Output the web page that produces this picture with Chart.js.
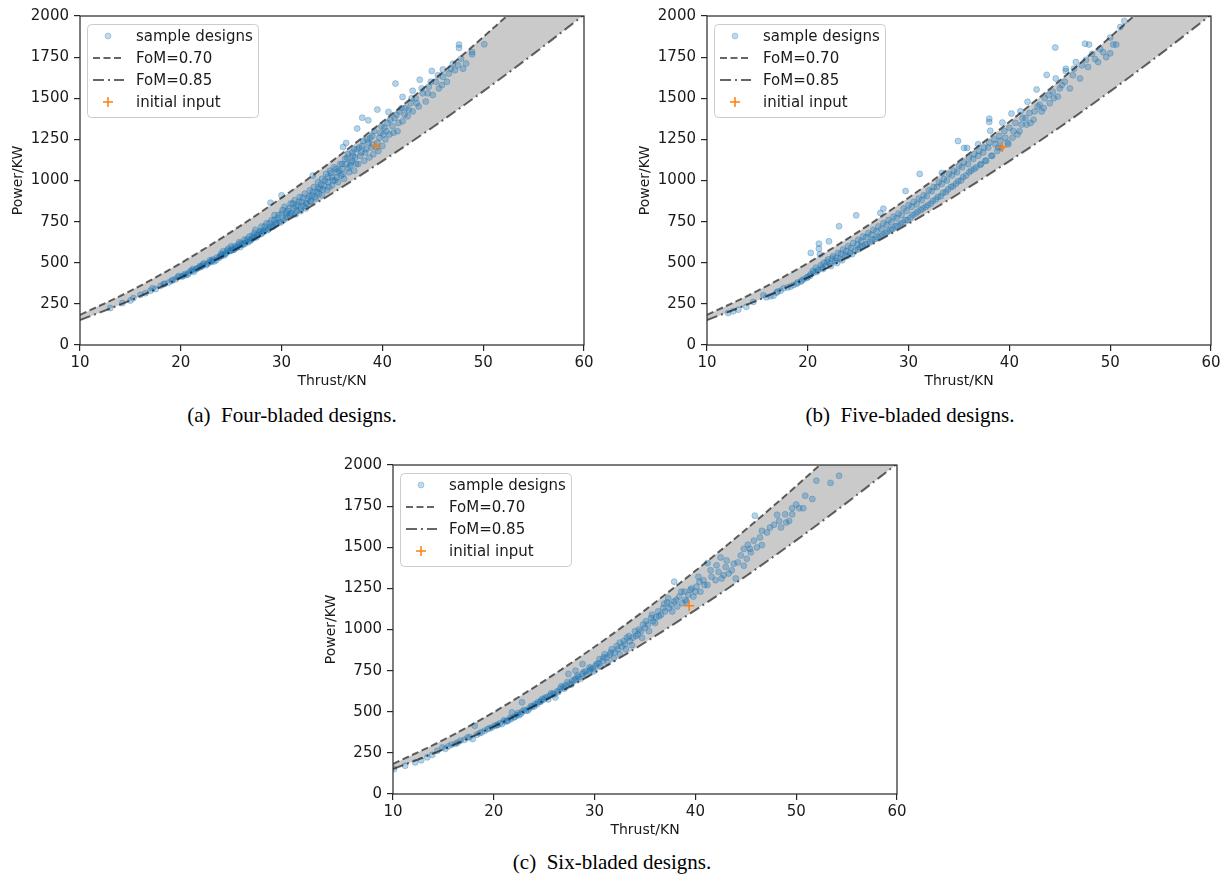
<!DOCTYPE html>
<html><head><meta charset="utf-8">
<script src="https://cdn.jsdelivr.net/npm/chart.js@4.4.1/dist/chart.umd.min.js"></script>
<style>
body{margin:0;background:#fff;width:1227px;height:877px;position:relative;overflow:hidden;font-family:"DejaVu Sans",sans-serif;}
.panel{position:absolute;width:600px;height:392px;}
.cap{position:absolute;font-family:"Liberation Serif",serif;font-size:21px;line-height:24px;color:#000;white-space:pre;transform:translateX(-50%);}
</style></head><body>
<div class="panel" style="left:0;top:0"><canvas id="ca" width="600" height="392"></canvas></div>
<div class="panel" style="left:627px;top:0"><canvas id="cb" width="600" height="392"></canvas></div>
<div class="panel" style="left:313px;top:449px"><canvas id="cc" width="600" height="392"></canvas></div>
<div class="cap" id="capA" style="left:292px;top:403px"></div>
<div class="cap" id="capB" style="left:910px;top:403px"></div>
<div class="cap" id="capC" style="left:612px;top:850px"></div>
<script>
const xTicks=[10,20,30,40,50,60];
const yTicks=[0,250,500,750,1000,1250,1500,1750,2000];
const axisTitles=['Thrust/KN','Power/KW'];
const seriesLabels=['sample designs','FoM=0.70','FoM=0.85','initial input'];
const captions=['(a)  Four-bladed designs.','(b)  Five-bladed designs.','(c)  Six-bladed designs.'];

const curveThrust=[10,15,20,25,30,35,40,45,50,55,60];
const fom70Power=[183,329,498,688,895,1118,1357,1608,1872,2149,2437];
const fom85Power=[151,271,410,567,737,921,1118,1324,1542,1770,2007];

const initialFour=[39.37,1210];
const initialFive=[39.27,1204];
const initialSix=[39.37,1145];

const fourBladedA=[[13.0,225],[14.2,255],[15.0,270],[15.3,285],[16.0,305],[16.5,315],[17.0,330],[17.5,340],[17.2,345],[18.0,360],[18.3,370],[18.8,380],[19.2,395],[19.5,400],[19.8,420],[20.2,420],[20.5,425],[20.8,440],[21.0,450],[21.3,445],[21.5,460],[21.8,470],[22.0,475],[22.2,490],[22.5,485],[22.8,500],[23.0,505],[23.2,520],[23.5,515],[23.8,530],[24.0,540],[24.0,555],[24.3,545],[24.5,560],[24.8,570],[25.0,575],[25.0,600],[25.3,580],[25.5,590],[25.7,610],[25.9,595],[26.0,620],[26.2,610],[26.5,630],[26.7,625],[26.8,660],[27.0,640],[27.2,650],[27.3,680],[27.5,655],[27.7,670],[27.9,690],[28.0,675],[28.0,720],[28.2,690],[28.4,700],[28.5,740],[28.7,705],[28.9,720],[28.9,865],[29.0,760],[29.2,725],[29.3,790],[29.5,740],[29.6,770],[29.8,750],[30.0,800],[30.0,910],[30.2,760],[30.3,840],[30.5,780],[30.6,815],[30.8,790],[30.9,860],[31.0,800],[31.2,830],[31.3,880],[31.5,815],[31.6,850],[31.8,900],[31.9,830],[32.0,870],[32.2,845],[32.3,920],[32.5,860],[32.6,890],[32.8,940],[32.9,875],[33.0,910],[33.1,1030],[33.2,960],[33.4,890],[33.5,930],[33.6,990],[33.8,950],[34.0,910],[34.0,1010],[34.2,970],[34.4,1040],[34.5,940],[34.6,990],[34.8,1060],[35.0,970],[35.0,1020],[35.2,1080],[35.3,1000],[35.5,1050],[35.6,990],[35.8,1100],[35.9,1030],[36.0,1070],[36.1,1204],[36.2,1010],[36.4,1228],[36.4,1100],[36.5,1140],[36.7,1050],[36.8,1090],[37.0,1170],[37.0,1120],[37.2,1060],[37.3,1140],[37.5,1316],[37.5,1190],[37.6,1100],[37.8,1150],[38.0,1382],[38.0,1210],[38.2,1120],[38.3,1170],[38.5,1250],[38.6,1366],[38.7,1140],[38.9,1200],[39.0,1270],[39.1,1160],[39.5,1431],[39.5,1230],[39.6,1180],[39.8,1290],[40.0,1210],[40.2,1320],[40.3,1250],[40.6,1417],[40.5,1350],[40.7,1280],[41.0,1330],[41.3,1589],[41.2,1380],[41.5,1300],[41.7,1420],[42.0,1508],[42.0,1360],[42.3,1440],[42.5,1390],[42.8,1470],[43.0,1545],[43.0,1420],[43.3,1500],[43.7,1613],[43.6,1450],[44.0,1530],[44.3,1480],[44.6,1570],[44.9,1666],[45.0,1520],[45.3,1600],[45.6,1560],[46.0,1675],[46.0,1630],[46.4,1600],[46.8,1680],[47.2,1670],[47.6,1826],[47.6,1806],[47.5,1700],[48.0,1680],[48.3,1711],[48.9,1781],[48.9,1767],[50.1,1828]];
const fourBladedB=[[18.4,372],[19.1,390],[19.7,412],[20.1,416],[20.4,431],[20.7,428],[21.1,452],[21.2,462],[21.6,465],[21.9,480],[22.1,478],[22.3,497],[22.6,492],[22.9,515],[23.1,512],[23.3,508],[23.6,532],[23.9,540],[24.1,548],[24.2,570],[24.4,552],[24.6,575],[24.7,585],[24.9,572],[25.1,590],[25.2,578],[25.4,600],[25.6,595],[25.8,625],[26.1,612],[26.3,640],[26.4,618],[26.6,645],[26.9,635],[27.1,665],[27.3,655],[27.4,700],[27.6,668],[27.8,690],[28.1,685],[28.3,720],[28.6,698],[28.8,740],[29.1,718],[29.3,760],[29.4,735],[29.7,790],[29.9,745],[30.1,820],[30.4,770],[30.4,800],[30.7,830],[30.9,800],[31.1,860],[31.4,795],[31.4,840],[31.7,870],[31.9,815],[32.1,895],[32.4,860],[32.4,830],[32.7,905],[32.9,870],[33.1,930],[33.3,900],[33.6,955],[33.7,920],[33.9,975],[34.1,945],[34.3,1000],[34.6,1020],[34.7,960],[34.9,1045],[35.1,1000],[35.4,1070],[35.5,1020],[35.7,1060],[36.0,1100],[36.1,1040],[36.3,1130],[36.6,1075],[36.6,1160],[36.9,1110],[37.1,1150],[37.2,1190],[37.4,1100],[37.7,1200],[37.9,1170],[38.1,1240],[38.4,1190],[38.6,1230],[38.8,1260],[39.0,1220],[39.2,1300],[39.4,1200],[39.7,1260],[39.9,1330],[40.1,1280],[40.4,1300],[40.8,1370],[41.1,1290],[41.4,1400],[41.6,1350],[41.9,1440],[42.2,1400],[42.6,1430],[42.9,1500],[43.4,1470],[43.9,1560],[44.5,1530],[44.8,1600],[45.5,1640],[45.9,1580],[46.6,1650],[47.0,1710],[47.8,1740]];

const fiveBladedA=[[12.1,195],[12.6,205],[13.1,215],[13.9,232],[15.6,302],[15.9,290],[16.3,296],[16.6,300],[17.0,325],[17.6,345],[18.0,350],[18.6,365],[19.0,380],[19.3,385],[19.6,400],[20.0,415],[20.3,430],[20.3,560],[20.6,440],[20.8,470],[21.0,455],[21.1,586],[21.1,616],[21.2,551],[21.4,470],[21.6,500],[21.8,480],[22.0,520],[22.1,630],[22.2,495],[22.5,540],[22.7,510],[23.0,560],[23.1,722],[23.2,525],[23.5,580],[23.7,545],[24.0,600],[24.2,560],[24.5,620],[24.8,788],[24.7,575],[25.0,640],[25.2,595],[25.5,660],[25.7,610],[26.0,680],[26.2,625],[26.5,700],[26.7,645],[27.0,720],[27.2,803],[27.2,660],[27.5,829],[27.5,740],[27.7,680],[28.0,760],[28.2,700],[28.5,780],[28.7,720],[29.0,800],[29.2,735],[29.5,830],[29.7,936],[29.7,760],[30.0,850],[30.2,775],[30.5,870],[30.7,800],[31.0,890],[31.1,1040],[31.2,820],[31.5,910],[31.7,840],[32.0,940],[32.2,860],[32.5,960],[32.7,885],[33.0,990],[33.3,1046],[33.2,905],[33.5,1010],[33.7,930],[34.0,1040],[34.2,960],[34.5,1060],[34.7,980],[34.9,1240],[35.0,1090],[35.2,1000],[35.5,1198],[35.5,1110],[35.8,1198],[35.7,1030],[36.0,1140],[36.2,1060],[36.5,1160],[36.7,1080],[36.9,1221],[37.0,1180],[37.2,1100],[37.5,1200],[37.7,1120],[38.0,1376],[38.0,1356],[38.1,1302],[38.0,1230],[38.3,1150],[38.5,1250],[38.8,1180],[39.0,1270],[39.3,1352],[39.2,1200],[39.5,1300],[39.8,1230],[40.2,1407],[40.0,1320],[40.3,1260],[40.6,1350],[41.1,1421],[41.0,1300],[41.3,1380],[41.8,1478],[41.7,1340],[42.0,1410],[42.4,1370],[42.7,1553],[42.8,1450],[43.2,1420],[43.7,1642],[43.5,1500],[44.0,1470],[44.3,1540],[44.6,1620],[44.55,1808],[44.8,1510],[45.2,1580],[45.6,1680],[45.6,1665],[46.0,1560],[46.3,1640],[46.6,1720],[47.0,1620],[47.5,1832],[47.6,1734],[47.9,1826],[47.8,1690],[48.5,1738],[48.8,1720],[49.3,1780],[50.0,1869],[50.0,1773],[50.3,1826],[50.6,1826],[51.0,1933],[51.4,1970]];
const fiveBladedB=[[14.6,262],[16.9,318],[17.3,330],[18.3,355],[18.9,372],[19.4,392],[19.9,408],[20.2,420],[20.5,450],[20.9,445],[21.3,485],[21.5,462],[21.9,505],[22.3,480],[22.4,525],[22.8,530],[22.9,498],[23.3,555],[23.4,515],[23.8,570],[23.9,540],[24.3,590],[24.4,552],[24.9,610],[25.0,580],[25.3,630],[25.4,600],[25.8,655],[25.9,615],[26.3,670],[26.4,640],[26.8,690],[26.9,655],[27.3,705],[27.4,670],[27.8,730],[27.9,690],[28.3,745],[28.4,705],[28.8,770],[28.9,725],[29.3,790],[29.4,745],[29.8,815],[29.9,760],[30.3,840],[30.4,790],[30.8,855],[30.9,810],[31.3,880],[31.4,830],[31.8,905],[31.9,850],[32.3,935],[32.4,875],[32.8,960],[32.9,900],[33.3,980],[33.4,925],[33.8,1000],[33.9,945],[34.3,1030],[34.4,965],[34.8,1050],[34.9,995],[35.3,1080],[35.4,1020],[35.9,1100],[36.0,1050],[36.4,1130],[36.5,1070],[36.9,1150],[37.1,1095],[37.4,1170],[37.6,1120],[37.9,1200],[38.2,1150],[38.6,1220],[38.9,1200],[39.1,1240],[39.6,1260],[39.9,1220],[40.4,1300],[40.8,1280],[41.2,1340],[41.6,1380],[42.1,1350],[42.5,1420],[43.0,1460],[43.4,1440],[43.9,1520],[44.4,1500],[45.0,1560],[45.5,1600],[46.4,1680],[47.2,1700],[48.2,1770],[49.0,1800],[49.6,1750]];

const sixBladedA=[[10.1,152],[12.2,192],[13.4,223],[14.4,263],[14.9,283],[15.2,275],[15.8,300],[16.2,305],[16.7,324],[17.4,344],[17.9,334],[18.1,415],[18.3,360],[18.6,370],[19.1,385],[19.4,395],[19.8,405],[20.1,415],[20.4,420],[20.8,425],[21.1,440],[21.4,446],[21.8,496],[21.7,455],[22.0,465],[22.3,480],[22.5,478],[22.8,557],[22.8,500],[23.2,505],[23.5,520],[23.8,530],[24.1,547],[24.3,545],[24.6,560],[24.8,578],[25.0,575],[25.3,590],[25.6,600],[25.9,610],[26.1,587],[26.3,625],[26.6,640],[26.9,650],[27.1,660],[27.4,730],[27.5,670],[27.8,690],[28.1,750],[28.1,700],[28.4,710],[28.8,790],[28.8,730],[29.1,745],[29.5,770],[29.5,750],[29.8,765],[30.1,780],[30.4,795],[30.5,820],[30.8,810],[31.0,850],[31.2,830],[31.5,845],[31.7,880],[32.0,860],[32.3,880],[32.5,920],[32.7,895],[33.0,910],[33.2,950],[33.5,930],[33.8,950],[34.0,990],[34.3,970],[34.6,990],[34.8,1030],[35.0,1010],[35.3,1030],[35.6,1070],[35.8,1050],[36.1,1075],[36.3,1110],[36.6,1090],[36.9,1157],[37.0,1110],[37.2,1165],[37.4,1130],[37.6,1150],[37.9,1291],[37.9,1170],[38.2,1140],[38.4,1200],[38.7,1160],[38.9,1230],[39.0,1180],[39.3,1210],[39.6,1250],[39.8,1200],[40.1,1260],[40.4,1290],[40.5,1230],[40.8,1300],[41.2,1404],[41.2,1270],[41.6,1320],[42.0,1300],[42.3,1350],[42.5,1438],[42.8,1330],[43.0,1380],[43.3,1340],[43.6,1360],[44.0,1310],[44.2,1408],[44.8,1388],[44.8,1490],[45.2,1515],[45.4,1490],[45.5,1469],[45.9,1692],[46.1,1499],[46.6,1513],[46.6,1600],[47.1,1590],[47.8,1637],[48.1,1697],[48.5,1620],[49.0,1650],[49.3,1660],[49.6,1737],[49.6,1700],[50.3,1737],[50.7,1737],[50.9,1813],[51.6,1793],[52.0,1905],[53.4,1891],[54.25,1935]];
const sixBladedB=[[11.2,172],[12.8,205],[13.9,238],[15.5,290],[16.4,312],[17.1,330],[17.6,346],[18.8,375],[19.6,400],[20.3,418],[20.6,430],[21.0,448],[21.3,442],[21.6,462],[22.1,470],[22.4,492],[22.7,488],[23.0,510],[23.4,508],[23.7,535],[24.0,532],[24.4,560],[24.7,565],[25.1,585],[25.4,575],[25.7,612],[26.0,605],[26.4,620],[26.7,655],[27.0,640],[27.3,680],[27.7,665],[28.0,690],[28.3,720],[28.6,700],[28.9,740],[29.2,725],[29.6,760],[29.9,745],[30.2,790],[30.6,775],[30.9,830],[31.3,800],[31.6,860],[31.9,825],[32.2,900],[32.5,850],[32.9,930],[33.1,880],[33.4,960],[33.7,905],[34.1,960],[34.4,1000],[34.7,950],[35.1,1050],[35.4,990],[35.7,1090],[36.0,1040],[36.4,1080],[36.8,1130],[37.3,1190],[37.7,1110],[38.1,1180],[38.6,1230],[39.1,1170],[39.5,1240],[40.0,1230],[40.3,1320],[40.9,1270],[41.5,1360],[42.1,1390],[42.6,1310],[43.1,1420],[43.8,1400],[44.5,1450],[45.1,1430],[45.8,1540],[46.4,1560],[47.4,1620],[48.3,1660],[48.9,1700],[50.0,1760]];

const LINE_COL='rgba(0,0,0,0.6)';
const DOT_COL='rgba(31,119,180,0.32)';
const DASH70=[7,3.5];
const DASH85=[11,4,2,4];

const framePlugin={id:'frame',afterDatasetsDraw(chart){const {ctx,chartArea:a}=chart;ctx.save();ctx.strokeStyle='#262626';ctx.lineWidth=1.2;ctx.strokeRect(a.left,a.top,a.right-a.left,a.bottom-a.top);ctx.restore();}};

const legendPlugin={id:'mplLegend',afterDraw(chart){
  const ctx=chart.ctx,a=chart.chartArea;
  const x0=a.left+7,y0=a.top+8,w=171,h=93;
  ctx.save();
  ctx.beginPath();ctx.roundRect(x0+0.5,y0+0.5,w,h,4);
  ctx.fillStyle='rgba(255,255,255,0.8)';ctx.fill();
  ctx.strokeStyle='#cccccc';ctx.lineWidth=1;ctx.stroke();
  const rows=[a.top+20,a.top+42,a.top+64,a.top+86];
  const hx0=a.left+13,hx1=a.left+44,hc=a.left+28;
  ctx.beginPath();ctx.arc(hc,rows[0],3,0,Math.PI*2);ctx.fillStyle='rgba(31,119,180,0.28)';ctx.fill();ctx.strokeStyle='rgba(31,119,180,0.28)';ctx.lineWidth=1;ctx.stroke();
  ctx.strokeStyle=LINE_COL;ctx.lineWidth=2;
  ctx.setLineDash(DASH70);ctx.beginPath();ctx.moveTo(hx0,rows[1]);ctx.lineTo(hx1,rows[1]);ctx.stroke();
  ctx.setLineDash(DASH85);ctx.beginPath();ctx.moveTo(hx0,rows[2]);ctx.lineTo(hx1,rows[2]);ctx.stroke();
  ctx.setLineDash([]);
  ctx.strokeStyle='#ff7f0e';ctx.lineWidth=1.5;ctx.beginPath();ctx.moveTo(hc-5,rows[3]);ctx.lineTo(hc+5,rows[3]);ctx.moveTo(hc,rows[3]-5);ctx.lineTo(hc,rows[3]+5);ctx.stroke();
  ctx.fillStyle='#1a1a1a';ctx.font='15px "DejaVu Sans"';ctx.textBaseline='middle';ctx.textAlign='left';
  seriesLabels.forEach((t,i)=>ctx.fillText(t,a.left+56,rows[i]+1));
  ctx.restore();
}};

function axisOpts(ticksArr,isX){
  return {
    type:'linear',min:ticksArr[0],max:ticksArr[ticksArr.length-1],
    afterFit(s){ if(isX) s.height=47; else s.width=80; },
    afterBuildTicks(s){ s.ticks=ticksArr.map(v=>({value:v})); },
    grid:{drawOnChartArea:false,drawTicks:true,tickLength:6,color:'#262626',lineWidth:1.2},
    border:{display:false},
    ticks:{padding:isX?3:5,font:{family:'DejaVu Sans',size:15},color:'#1a1a1a',maxRotation:0,autoSkip:false,callback:v=>String(v)},
    title:{display:true,text:axisTitles[isX?0:1],font:{family:'DejaVu Sans',size:14},color:'#1a1a1a',padding:isX?{top:0,bottom:2}:{top:10,bottom:0}}
  };
}

function makeChart(id,designs,init){
  return new Chart(document.getElementById(id),{
    type:'line',
    data:{datasets:[
      {type:'scatter',label:seriesLabels[0],data:designs.map(p=>({x:p[0],y:p[1]})),pointRadius:3,pointBackgroundColor:DOT_COL,pointBorderColor:DOT_COL,pointBorderWidth:1,order:2},
      {type:'line',label:seriesLabels[1],data:curveThrust.map((t,i)=>({x:t,y:fom70Power[i]})),borderColor:LINE_COL,borderWidth:2,borderDash:DASH70,pointRadius:0,fill:2,backgroundColor:'rgba(128,128,128,0.42)',cubicInterpolationMode:'monotone',order:1},
      {type:'line',label:seriesLabels[2],data:curveThrust.map((t,i)=>({x:t,y:fom85Power[i]})),borderColor:LINE_COL,borderWidth:2,borderDash:DASH85,pointRadius:0,fill:false,cubicInterpolationMode:'monotone',order:1},
      {type:'scatter',label:seriesLabels[3],data:[{x:init[0],y:init[1]}],pointStyle:'cross',pointRadius:5,pointBorderColor:'#ff7f0e',pointBackgroundColor:'#ff7f0e',pointBorderWidth:1.5,order:0}
    ]},
    options:{responsive:false,animation:false,devicePixelRatio:1,
      layout:{padding:{top:16,right:16,left:0,bottom:0}},
      plugins:{legend:{display:false},tooltip:{enabled:false},filler:{drawTime:'beforeDatasetsDraw'}},
      scales:{x:axisOpts(xTicks,true),y:axisOpts(yTicks,false)}
    },
    plugins:[framePlugin,legendPlugin]
  });
}
makeChart('ca',fourBladedA.concat(fourBladedB),initialFour);
makeChart('cb',fiveBladedA.concat(fiveBladedB),initialFive);
makeChart('cc',sixBladedA.concat(sixBladedB),initialSix);
document.getElementById('capA').textContent=captions[0];
document.getElementById('capB').textContent=captions[1];
document.getElementById('capC').textContent=captions[2];
</script>
</body></html>
